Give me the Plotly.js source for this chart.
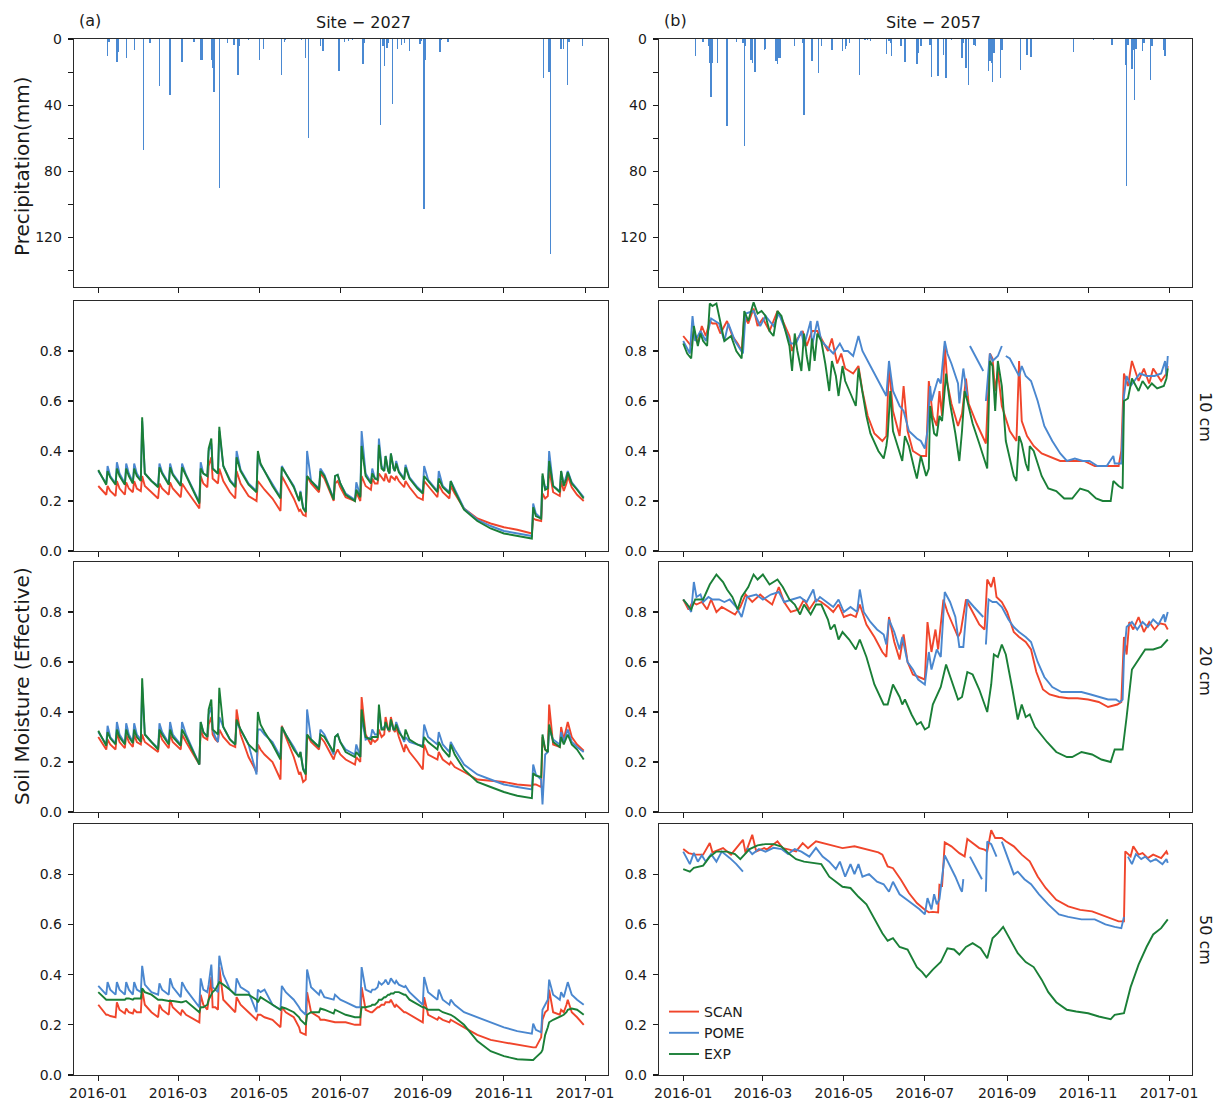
<!DOCTYPE html>
<html>
<head>
<meta charset="utf-8">
<script src="https://cdn.plot.ly/plotly-3.0.1.min.js"></script>
<style>
  html, body { margin: 0; padding: 0; background: #ffffff; }
  #chart { width: 1218px; height: 1100px; }
</style>
</head>
<body>
<div id="chart"></div>
<script>
// ---------------------------------------------------------------------------
// Daily precipitation (mm), day offsets counted from 2016-01-01
// ---------------------------------------------------------------------------
const rainDays2027 = [7,8,14,15,21,27,34,39,46,54, 63,72,77,78,85,86,87,91,97,102,
  105,106,113,121,124,138,140,141,153,156, 158,167,169,181,185,188,191,199,200,212,
  214,215,217,218,221,225,228,230,234,242, 243,245,246,257,258,263,280,335,339,340,
  348,350,353,354,364];
const rainMm2027 = [10,2,14,8,11.5,6.5,67,2.6,28.5,33.6, 13.7,2,13,13,13,17.5,32,90,2.4,3.4,
  22,4.4,0.4,12.7,6,21.7,1.6,0.8,0.4,11.5, 60,4.4,7.4,19.3,2,1.4,0.8,15,2.4,52,
  4.4,16.5,5.4,2.4,39.6,6,3.4,2.4,7.4,2.8, 1.4,103,12.5,8,0.8,1.6,0.2,23.5,20,130,
  5.8,5.8,28,2,4];

const rainDays2057 = [9,15,19,20,21,22,26,33,40,45, 46,47,51,52,54,61,62,70,71,72,
  73,84,90,91,97,102,104,112,120,122, 123,125,133,137,139,141,153,155,156,157,
  164,167,176,177,179,186,187,192,196,198, 202,210,211,213,215,219,220,230,231,232,
  233,234,239,240,254,259,262,294,309,323, 333,334,335,338,339,340,341,346,347,352,
  353,362,363];
const rainMm2057 = [10,1.8,4.4,14.5,35,14.5,14.5,52.7,1.8,2.4, 65,4.4,12.5,14.5,20,6.8,6,13.5,15,11.5,
  11.5,4.4,2.4,46,13.5,20.5,4.4,6.4,7,5.8, 4.4,2.4,21.7,0.8,0.8,1.4,8.8,1.4,2.4,10,
  4.4,14,15,8.4,4.4,3.4,23,22.5,9.5,23.5, 0.4,11.5,2.4,17.5,28,3.4,4.4,19.5,13.5,14.5,
  25.8,8.4,23.3,6.4,19,9.5,10.9,7.8,0.4,3.4, 16,89,3.4,18,6.4,37,6,7.4,2.4,24.5,
  4.4,6.4,10.5];

// ---------------------------------------------------------------------------
// Site 2027 effective soil moisture, on a common day grid
// ---------------------------------------------------------------------------
const dayGrid2027 = [
  0,6,7,9,13,14,16,20,21,23,
  26,27,29,32,33,35,40,45,46,48,
  53,54,56,62,63,66,76,77,79,82,
  83,85,86,88,90,91,94,99,103,104,
  107,113,119,120,122,125,131,137,138,141,
  147,151,152,154,156,157,160,166,167,170,
  177,178,180,182,186,193,194,197,198,201,
  205,206,208,210,211,213,215,216,218,219,
  220,222,223,224,226,230,231,234,240,244,
  245,248,255,256,259,264,265,268,275,285,
  295,305,315,326,327,329,333,334,336,338,
  339,342,347,348,350,352,353,356,360,365];

// 10 cm
const scan10_2027 = [
  .26,.225,.26,.24,.22,.28,.25,.225,.275,.25,
  .235,.28,.25,.24,.30,.26,.235,.21,.27,.25,
  .225,.275,.25,.215,.27,.245,.17,.30,.27,.255,
  .34,.375,.29,.28,.27,.33,.28,.235,.21,.32,
  .27,.22,.20,.28,.265,.245,.21,.16,.30,.27,
  .21,.16,.165,.145,.14,.30,.27,.235,.31,.29,
  .20,.27,.28,.255,.215,.20,.235,.20,.30,.26,
  .245,.29,.27,.27,.31,.295,.28,.31,.28,.275,
  .30,.29,.285,.30,.28,.255,.28,.255,.215,.205,
  .28,.26,.215,.265,.235,.21,.26,.23,.17,.13,
  .11,.095,.085,.07,.13,.125,.12,.23,.21,.22,
  .33,.235,.22,.28,.24,.27,.30,.255,.225,.20];
const pome10_2027 = [
  .32,.27,.34,.30,.27,.355,.31,.27,.35,.31,
  .275,.35,.31,.285,.52,.31,.28,.26,.35,.315,
  .27,.35,.31,.265,.35,.305,.195,.355,.31,.30,
  .40,.43,.33,.32,.31,.48,.34,.285,.26,.40,
  .325,.27,.24,.39,.345,.32,.265,.215,.34,.31,
  .26,.20,.24,.175,.16,.40,.28,.25,.33,.305,
  .21,.30,.305,.27,.23,.205,.275,.22,.48,.31,
  .275,.33,.29,.29,.45,.34,.32,.38,.32,.31,
  .39,.33,.32,.36,.32,.29,.345,.295,.255,.235,
  .34,.285,.24,.32,.26,.235,.28,.245,.17,.125,
  .10,.08,.07,.06,.19,.15,.13,.30,.25,.26,
  .40,.26,.24,.32,.265,.30,.32,.275,.25,.215];
const exp10_2027 = [
  .324,.265,.32,.295,.265,.33,.30,.265,.33,.30,
  .27,.33,.30,.28,.535,.31,.28,.255,.335,.31,
  .265,.335,.305,.26,.335,.30,.19,.33,.31,.30,
  .41,.45,.33,.32,.31,.497,.34,.28,.255,.375,
  .32,.265,.235,.40,.35,.32,.26,.21,.335,.31,
  .255,.20,.235,.17,.155,.30,.28,.245,.32,.30,
  .205,.30,.305,.27,.225,.20,.245,.215,.42,.30,
  .27,.31,.29,.285,.425,.33,.32,.38,.32,.31,
  .39,.33,.32,.35,.315,.285,.335,.29,.25,.23,
  .30,.28,.235,.29,.255,.23,.28,.24,.165,.12,
  .09,.07,.06,.05,.175,.14,.13,.31,.245,.25,
  .36,.26,.235,.32,.26,.29,.315,.27,.245,.21];

// 20 cm
const scan20_2027 = [
  .30,.25,.29,.27,.25,.32,.28,.255,.31,.28,
  .26,.31,.28,.27,.31,.28,.26,.24,.32,.29,
  .255,.31,.28,.25,.31,.28,.19,.33,.30,.29,
  .35,.38,.31,.29,.28,.33,.30,.27,.26,.41,
  .31,.22,.16,.27,.25,.23,.20,.13,.345,.30,
  .22,.15,.16,.12,.13,.31,.28,.25,.30,.28,
  .21,.23,.25,.23,.21,.19,.22,.20,.46,.31,
  .27,.29,.28,.29,.33,.30,.31,.38,.33,.32,
  .38,.33,.32,.34,.30,.24,.27,.24,.20,.17,
  .27,.23,.21,.24,.21,.19,.20,.18,.16,.13,
  .125,.12,.11,.105,.11,.11,.10,.30,.25,.24,
  .43,.27,.26,.34,.29,.33,.36,.30,.27,.245];
const pome20_2027 = [
  .32,.27,.345,.30,.275,.36,.31,.275,.355,.31,
  .28,.355,.31,.29,.50,.31,.28,.255,.355,.32,
  .275,.36,.31,.27,.36,.31,.19,.36,.32,.30,
  .39,.42,.33,.30,.28,.38,.34,.29,.27,.36,
  .33,.27,.15,.33,.33,.31,.28,.22,.34,.31,
  .26,.22,.24,.175,.16,.41,.29,.26,.33,.31,
  .23,.30,.31,.28,.25,.23,.27,.22,.38,.29,
  .30,.33,.31,.31,.40,.33,.34,.35,.33,.33,
  .36,.33,.33,.36,.33,.28,.30,.28,.27,.265,
  .35,.30,.27,.32,.27,.24,.28,.25,.19,.15,
  .13,.11,.10,.09,.19,.15,.13,.03,.23,.24,
  .33,.29,.27,.32,.28,.31,.33,.28,.26,.24];
const exp20_2027 = [
  .325,.265,.32,.295,.27,.33,.30,.27,.33,.30,
  .275,.33,.30,.28,.535,.31,.28,.25,.33,.31,
  .27,.33,.30,.265,.33,.30,.19,.36,.32,.30,
  .41,.45,.33,.32,.31,.497,.34,.29,.27,.37,
  .33,.27,.24,.40,.35,.32,.27,.21,.34,.31,
  .25,.22,.24,.17,.15,.31,.29,.26,.31,.30,
  .24,.30,.31,.28,.24,.22,.24,.22,.41,.30,
  .29,.30,.30,.30,.43,.33,.33,.36,.33,.33,
  .37,.33,.33,.35,.32,.29,.33,.29,.27,.26,
  .30,.28,.25,.28,.25,.22,.27,.23,.17,.12,
  .10,.08,.065,.055,.155,.145,.14,.31,.25,.24,
  .35,.28,.26,.30,.27,.30,.31,.27,.25,.21];

// 50 cm
const scan50_2027 = [
  .28,.24,.24,.235,.23,.29,.26,.245,.265,.25,
  .245,.26,.25,.25,.34,.28,.25,.23,.28,.26,
  .24,.30,.27,.24,.26,.24,.21,.32,.28,.26,
  .30,.39,.27,.27,.26,.43,.30,.27,.25,.31,
  .28,.25,.22,.24,.24,.23,.22,.19,.27,.25,
  .23,.19,.17,.165,.16,.33,.25,.23,.22,.22,
  .21,.21,.21,.21,.21,.20,.20,.20,.35,.26,
  .25,.25,.26,.27,.27,.28,.28,.29,.29,.29,
  .30,.28,.27,.28,.27,.25,.25,.24,.22,.21,
  .31,.24,.22,.23,.22,.21,.22,.21,.19,.16,
  .14,.13,.12,.11,.11,.11,.15,.22,.25,.26,
  .34,.25,.24,.26,.25,.28,.30,.25,.23,.20];
const pome50_2027 = [
  .355,.32,.37,.34,.32,.37,.34,.32,.37,.34,
  .32,.37,.34,.33,.435,.36,.33,.32,.365,.34,
  .32,.385,.35,.31,.37,.34,.27,.385,.34,.33,
  .36,.44,.35,.34,.33,.475,.40,.34,.32,.385,
  .35,.33,.25,.34,.33,.34,.28,.26,.355,.33,
  .30,.27,.26,.25,.24,.42,.35,.32,.34,.31,
  .30,.32,.31,.30,.29,.27,.27,.27,.43,.34,
  .33,.34,.34,.35,.37,.36,.37,.38,.36,.37,
  .385,.37,.365,.375,.36,.35,.355,.33,.30,.28,
  .39,.33,.30,.34,.30,.28,.30,.28,.25,.23,
  .21,.19,.175,.165,.205,.18,.17,.26,.28,.30,
  .38,.32,.30,.33,.31,.35,.37,.32,.30,.28];
const exp50_2027 = [
  .33,.30,.30,.30,.30,.30,.30,.30,.305,.305,
  .30,.305,.305,.305,.345,.33,.32,.30,.30,.30,
  .295,.295,.295,.29,.29,.295,.25,.27,.27,.28,
  .30,.32,.33,.34,.36,.37,.36,.34,.32,.32,
  .32,.32,.30,.29,.31,.30,.28,.26,.27,.265,
  .25,.23,.22,.21,.20,.24,.25,.25,.265,.26,
  .245,.26,.255,.25,.24,.23,.23,.23,.27,.27,
  .275,.28,.28,.29,.30,.30,.31,.31,.32,.32,
  .325,.325,.33,.33,.33,.32,.32,.30,.28,.27,
  .27,.26,.26,.26,.25,.24,.24,.23,.20,.135,
  .095,.075,.063,.06,.06,.07,.09,.10,.16,.19,
  .21,.22,.23,.235,.24,.25,.26,.265,.26,.24];

// ---------------------------------------------------------------------------
// Site 2057 effective soil moisture (own day offsets per series, null = no data)
// ---------------------------------------------------------------------------
// 10 cm
const scanDays10_2057 = [0,3,6,8,11,14,17,20,22,25, 28,33,37,41,44,46,49,53,56,60,
  65,71,75,80,82,85,90,93,97,101, 104,109,112,116,119,122,128,132,135,139,
  144,150,153,155,158,163,166,169,173,179, 183,185,188,191,193,195,197,199,202,207,
  210,213,215,221,228,231,233,235,237,240, 246,251,253,255,259,264,270,275,284,293,
  302,310,319,328,330,332,335,338,343,347, 351,354,360,364,365];
const scan10_2057 = [.86,.84,.82,.88,.83,.90,.86,.92,.91,.91, .87,.92,.86,.83,.80,.94,.91,.97,.90,.93,
  .88,.96,.92,.86,.80,.84,.88,.82,.88,.88, .85,.80,.85,.75,.79,.73,.71,.74,.64,.54,
  .47,.44,.46,.74,.56,.46,.66,.48,.40,.38, .38,.68,.54,.50,.64,.54,.82,.67,.59,.50,
  .55,.69,.59,.51,.43,.79,.77,.64,.72,.58, .48,.44,.76,.52,.46,.42,.39,.38,.36,.36,
  .36,.34,.34,.34,.40,.71,.66,.76,.68,.73, .67,.73,.68,.71,.74];
const pomeDays10_2057 = [0,5,7,9,13,17,21,27,31,34, 39,45,47,53,58,62,68,72,75,81,
  85,89,91,96,97,101,104,109,113,118, 121,124,128,132,135,141,147,153,155,158,
  163,166,170,176,179,182,184,186,187,192, 194,197,199,202,207,208,211,214,215,216,
  226,227,228,231,233,237,240,241,243,246, 249,253,255,258,262,267,272,278,284,289,
  295,301,306,312,319,324,325,330,332,334, 337,340,344,349,355,360,363,364,365];
const pome10_2057 = [.84,.79,.94,.84,.88,.84,.93,.91,.84,.91, .84,.79,.95,.96,.90,.94,.90,.95,.91,.83,
  .83,.88,.82,.92,.82,.92,.84,.81,.79,.83, .80,.80,.78,.86,.80,.74,.68,.62,.76,.64,
  .58,.56,.48,.45,.44,.41,.48,.66,.60,.69, .67,.84,.79,.75,.67,.59,.73,.62,null,.82,
  .72,null,.60,.79,.76,.78,.82,null,.78,.77, .74,.70,.74,.70,.68,.60,.50,.44,.39,.36,
  .37,.36,.36,.34,.34,.38,.35,.35,.62,.70, .66,.68,.71,.70,.70,.71,.76,.70,.78];
const expDays10_2057 = [0,3,6,8,11,13,15,18,20,22, 25,27,31,36,40,44,46,49,50,53,
  56,59,62,65,68,71,74,77,80,82, 84,86,89,91,93,95,97,99,101,104,
  107,110,112,115,117,120,122,126,130,132, 135,138,141,147,151,153,154,156,158,163,
  165,167,170,174,176,179,181,183,185,186, 189,191,193,195,198,201,205,208,210,212,
  214,218,223,229,231,233,235,237,240,243, 249,251,253,255,258,260,261,264,270,275,
  281,287,293,299,305,311,316,322,324,328, 331,332,335,338,343,346,350,353,357,362,
  364,365];
const exp10_2057 = [.83,.79,.77,.90,.82,.87,.84,.82,.99,.98, .99,.94,.84,.86,.80,.77,.96,.92,.94,.995,
  .95,.96,.94,.88,.86,.96,.94,.88,.82,.72, .87,.80,.72,.87,.78,.72,.85,.76,.87,.84,
  .75,.64,.76,.70,.62,.74,.68,.63,.58,.73, .64,.54,.47,.40,.37,.42,.46,.64,.48,.40,
  .36,.46,.42,.33,.29,.38,.34,.30,.33,.58, .47,.46,.54,.52,.71,.59,.47,.36,.48,.64,
  .60,.51,.43,.33,.76,.74,.56,.76,.66,.44, .30,.28,.46,.43,.35,.32,.42,.40,.30,.25,
  .24,.21,.21,.25,.24,.21,.20,.20,.28,.26, .25,.60,.61,.69,.64,.68,.65,.67,.65,.66,
  .69,.73];

// 20 cm
const scanDays20_2057 = [0,4,7,10,14,18,21,25,29,35, 39,43,47,52,58,62,67,72,76,81,
  87,91,95,100,104,109,113,117,121,126, 130,133,138,144,150,153,155,159,163,166,
  169,173,177,182,184,187,190,192,196,199, 203,207,209,213,218,223,227,229,232,234,
  236,240,244,249,253,258,262,266,271,276, 283,290,297,305,313,320,327,330,332,334,
  336,339,343,347,351,355,359,363,365];
const scan20_2057 = [.85,.81,.84,.83,.84,.81,.85,.80,.82,.80, .79,.82,.87,.84,.87,.85,.83,.90,.84,.80,
  .81,.85,.81,.85,.84,.82,.80,.83,.78,.79, .78,.83,.75,.70,.64,.62,.78,.68,.61,.71,
  .60,.55,.54,.53,.76,.64,.73,.65,.85,.80, .75,.70,.72,.85,.80,.75,.73,.93,.90,.94,
  .86,.84,.80,.72,.70,.68,.65,.56,.49,.47, .46,.455,.455,.45,.44,.42,.43,.44,.70,.63,
  .76,.73,.78,.72,.76,.73,.755,.75,.73];
const pomeDays20_2057 = [0,3,6,8,10,13,15,19,22,27, 31,35,40,44,48,55,60,66,72,76,
  82,88,93,98,100,103,108,113,117,121, 126,131,133,136,141,146,151,153,155,159,
  163,165,169,173,177,182,185,187,191,194, 197,201,205,208,211,214,219,226,227,228,
  230,233,236,240,245,249,253,258,262,267, 272,278,285,293,300,307,314,320,326,329,
  331,332,334,338,342,346,350,354,358,362, 363,365];
const pome20_2057 = [.85,.83,.80,.92,.86,.87,.84,.86,.85,.85, .84,.85,.82,.78,.86,.87,.85,.87,.88,.84,
  .85,.86,.84,.89,.84,.86,.84,.82,.85,.80, .82,.80,.89,.80,.76,.73,.71,.67,.77,.72,
  .65,.70,.60,.57,.53,.51,.64,.57,.65,.62, .88,.84,.78,.66,.66,.85,.82,.78,null,.67,
  .85,.84,.84,.82,.77,.74,.72,.70,.68,.60, .54,.50,.48,.48,.48,.47,.46,.45,.45,.44,
  .45,.62,.74,.76,.73,.76,.74,.77,.75,.79, .76,.80];
const expDays20_2057 = [0,3,6,9,15,20,25,30,33,37, 41,44,49,53,56,60,65,71,75,80,
  84,88,91,96,100,104,109,111,114,117, 120,125,130,133,138,144,151,154,158,163,
  165,167,172,176,179,182,185,188,194,198, 202,207,210,214,218,223,229,232,234,237,
  240,243,248,252,255,258,261,265,274,281, 289,293,300,308,315,322,325,331,334,338,
  343,348,354,360,365];
const exp20_2057 = [.85,.83,.81,.85,.85,.91,.95,.92,.89,.86, .81,.86,.90,.95,.93,.95,.91,.93,.90,.85,
  .83,.79,.83,.79,.83,.83,.77,.73,.75,.69, .72,.69,.65,.69,.62,.51,.43,.43,.51,.46,
  .43,.45,.39,.35,.36,.33,.34,.43,.50,.59, .53,.45,.46,.56,.55,.49,.40,.51,.63,.62,
  .67,.63,.49,.37,.43,.38,.39,.34,.28,.24, .22,.22,.24,.23,.21,.20,.25,.25,.38,.57,
  .61,.65,.65,.66,.69];

// 50 cm
const scanDays50_2057 = [0,4,9,15,20,22,30,36,45,47, 52,55,61,63,71,75,80,85,90,94,
  100,109,120,129,138,147,150,154,158,164, 170,176,182,185,188,192,193,195,197,202,
  208,212,214,218,223,227,229,232,235,240, 243,249,255,261,267,273,281,290,299,308,
  317,322,328,332,333,337,339,343,346,350, 354,360,364,365];
const scan50_2057 = [.90,.884,.878,.878,.924,.887,.904,.878,.937,.884, .957,.891,.904,.898,.931,.904,.898,.891,.924,.904,
  .931,.918,.904,.911,.898,.887,.878,.831,.824,.778, .725,.685,.658,.648,.65,.648,.758,.754,.927,.911,
  .884,.871,.94,.924,.904,.898,.891,.975,.944,.944, .931,.911,.878,.851,.791,.745,.698,.672,.658,.652,
  .634,.625,.612,.612,.891,.871,.911,.878,.884,.864, .878,.864,.891,.878];
const pomeDays50_2057 = [0,5,8,11,14,17,21,25,29,35, 40,45,46,48,52,57,62,68,74,79,
  84,89,95,100,105,110,115,118,122,126, 129,132,135,140,146,151,155,158,163,168,
  173,178,182,184,187,189,191,193,197,205, 209,210,211,213,216,225,226,228,229,232,
  236,238,240,245,249,252,257,262,268,275, 283,290,300,310,318,325,330,332,333,335,
  338,341,345,348,352,356,361,364,365];
const pome50_2057 = [.89,.84,.885,.85,.875,.85,.88,.85,.89,.865, .84,.81,null,.905,.88,.90,.89,.905,.90,.88,
  .90,.89,.87,.905,.87,.85,.82,.85,.79,.84, .80,.84,.79,.80,.77,.76,.73,.77,.72,.70,
  .68,.66,.64,.705,.66,.72,.68,.70,.875,.79, .74,.73,.78,null,.87,.78,null,.73,.93,.92,
  .87,null,.93,.86,.80,.81,.78,.76,.72,.68, .64,.63,.62,.62,.60,.59,.585,.63,null,.87,
  .84,.88,.86,.87,.85,.86,.84,.86,.845];
const expDays50_2057 = [0,5,8,15,20,25,33,39,43,50, 56,62,68,74,80,85,91,97,104,110,
  115,120,126,132,138,144,150,154,158,163, 169,176,180,183,188,194,199,204,208,213,
  218,224,229,233,237,241,246,252,258,264, 270,275,281,289,296,305,313,322,325,332,
  337,343,349,354,360,365];
const exp50_2057 = [.82,.81,.825,.834,.87,.89,.89,.88,.86,.90, .915,.92,.92,.91,.88,.86,.85,.845,.84,.79,
  .77,.75,.745,.71,.68,.62,.565,.535,.545,.51, .50,.43,.41,.39,.42,.45,.505,.50,.48,.51,
  .525,.505,.465,.545,.565,.59,.54,.485,.45,.43, .38,.33,.29,.26,.253,.246,.233,.222,.24,.246,
  .35,.44,.51,.56,.585,.62];

// Axis labels
const monthTicks = ['2016-01-01','2016-03-01','2016-05-01','2016-07-01','2016-09-01','2016-11-01','2017-01-01'];
const monthLabels = ['2016-01','2016-03','2016-05','2016-07','2016-09','2016-11','2017-01'];
const rainTicks = [0,20,40,60,80,100,120,140];
const rainLabels = ['0','','40','','80','','120',''];
const smTicks = [0,0.2,0.4,0.6,0.8];
const smLabels = ['0.0','0.2','0.4','0.6','0.8'];
const siteTitles = ['Site \u2212 2027', 'Site \u2212 2057'];
const panelTags = ['(a)', '(b)'];
const depthLabels = ['10 cm', '20 cm', '50 cm'];
const seriesNames = ['SCAN', 'POME', 'EXP'];

// ---------------------------------------------------------------------------
// Drawing
// ---------------------------------------------------------------------------
const FONT = '"DejaVu Sans", "Liberation Sans", sans-serif';
const INK = '#1a1a1a';
const COLORS = { SCAN: '#f0452b', POME: '#4a87cf', EXP: '#1a7f37' };
const RAIN_COLOR = '#4a89d2';
const DAY_MS = 864e5;
const BASE = Date.UTC(2016, 0, 1);
const toDate = d => (d === null ? null : new Date(BASE + d * DAY_MS).toISOString().slice(0, 10));

const W = 1218, H = 1100;
const colPx = [[74, 608], [659, 1192]];
const rowPx = [[39, 287], [301, 551], [562, 812], [824, 1075]];
const px2x = p => p / W;
const px2y = p => 1 - p / H;

const axName = i => (i === 0 ? '' : String(i + 1));
const traces = [];

function rainTrace(days, mm, panel) {
  traces.push({
    type: 'bar', x: days.map(toDate), y: mm, width: DAY_MS,
    marker: { color: RAIN_COLOR, line: { width: 0 } },
    xaxis: 'x' + axName(panel), yaxis: 'y' + axName(panel),
    showlegend: false, hoverinfo: 'skip'
  });
}
function lineTrace(days, vals, name, panel, legend) {
  traces.push({
    type: 'scatter', mode: 'lines', name: name,
    x: days.map(toDate), y: vals, connectgaps: false,
    line: { color: COLORS[name], width: 1.9 },
    xaxis: 'x' + axName(panel), yaxis: 'y' + axName(panel),
    showlegend: legend, hoverinfo: 'skip'
  });
}

rainTrace(rainDays2027, rainMm2027, 0);
rainTrace(rainDays2057, rainMm2057, 1);

const site2027 = [
  [scan10_2027, pome10_2027, exp10_2027],
  [scan20_2027, pome20_2027, exp20_2027],
  [scan50_2027, pome50_2027, exp50_2027]
];
const site2057 = [
  [[scanDays10_2057, scan10_2057], [pomeDays10_2057, pome10_2057], [expDays10_2057, exp10_2057]],
  [[scanDays20_2057, scan20_2057], [pomeDays20_2057, pome20_2057], [expDays20_2057, exp20_2057]],
  [[scanDays50_2057, scan50_2057], [pomeDays50_2057, pome50_2057], [expDays50_2057, exp50_2057]]
];
for (let r = 0; r < 3; r++) {
  const pL = 2 + 2 * r, pR = 3 + 2 * r;
  site2027[r].forEach((vals, k) => lineTrace(dayGrid2027, vals, seriesNames[k], pL, false));
  site2057[r].forEach(([days, vals], k) => lineTrace(days, vals, seriesNames[k], pR, r === 2));
}

const layout = {
  width: W, height: H,
  margin: { l: 0, r: 0, t: 0, b: 0 },
  paper_bgcolor: '#ffffff', plot_bgcolor: '#ffffff',
  font: { family: FONT, size: 14, color: INK },
  showlegend: true,
  legend: {
    x: px2x(664), y: px2y(996), xanchor: 'left', yanchor: 'top',
    bgcolor: 'rgba(0,0,0,0)', borderwidth: 0, font: { family: FONT, size: 14, color: INK },
    itemwidth: 30, tracegroupgap: 0, traceorder: 'normal'
  },
  hovermode: false,
  annotations: [],
  bargap: 0
};

for (let p = 0; p < 8; p++) {
  const r = Math.floor(p / 2), c = p % 2;
  const n = axName(p);
  layout['xaxis' + n] = {
    domain: [px2x(colPx[c][0]), px2x(colPx[c][1])],
    anchor: 'y' + n, type: 'date',
    range: ['2015-12-13 18:00', '2017-01-18 06:00'],
    tickmode: 'array', tickvals: monthTicks, ticktext: monthLabels,
    showticklabels: r === 3,
    ticks: 'outside', ticklen: 5, tickwidth: 1.1, tickcolor: INK,
    showline: true, mirror: true, linecolor: '#2a2a2a', linewidth: 1.3,
    showgrid: false, zeroline: false,
    tickfont: { family: FONT, size: 14, color: INK }
  };
  layout['yaxis' + n] = {
    domain: [px2y(rowPx[r][1]), px2y(rowPx[r][0])],
    anchor: 'x' + n,
    range: r === 0 ? [150, 0] : [0, 1],
    tickmode: 'array',
    tickvals: r === 0 ? rainTicks : smTicks,
    ticktext: r === 0 ? rainLabels : smLabels,
    ticks: 'outside', ticklen: 5, tickwidth: 1.1, tickcolor: INK,
    ticklabelstandoff: 3,
    showline: true, mirror: true, linecolor: '#2a2a2a', linewidth: 1.3,
    showgrid: false, zeroline: false,
    tickfont: { family: FONT, size: 14, color: INK }
  };
}

const ann = layout.annotations;
const text = (t, xpx, ypx, opts) => ann.push(Object.assign({
  text: t, x: px2x(xpx), y: px2y(ypx), xref: 'paper', yref: 'paper',
  xanchor: 'center', yanchor: 'middle', showarrow: false,
  font: { family: FONT, size: 16, color: INK }
}, opts || {}));

text(panelTags[0], 77, 21, { xanchor: 'left' });
text(panelTags[1], 662, 21, { xanchor: 'left' });
text(siteTitles[0], 363, 22);
text(siteTitles[1], 933, 22);
text('Precipitation(mm)', 22, 166, { textangle: -90, font: { family: FONT, size: 20, color: INK } });
text('Soil Moisture (Effective)', 22, 686, { textangle: -90, font: { family: FONT, size: 20, color: INK } });
text(depthLabels[0], 1206, 417, { textangle: 90 });
text(depthLabels[1], 1206, 671, { textangle: 90 });
text(depthLabels[2], 1206, 940, { textangle: 90 });

Plotly.newPlot('chart', traces, layout, { staticPlot: true, displayModeBar: false });
</script>
</body>
</html>
